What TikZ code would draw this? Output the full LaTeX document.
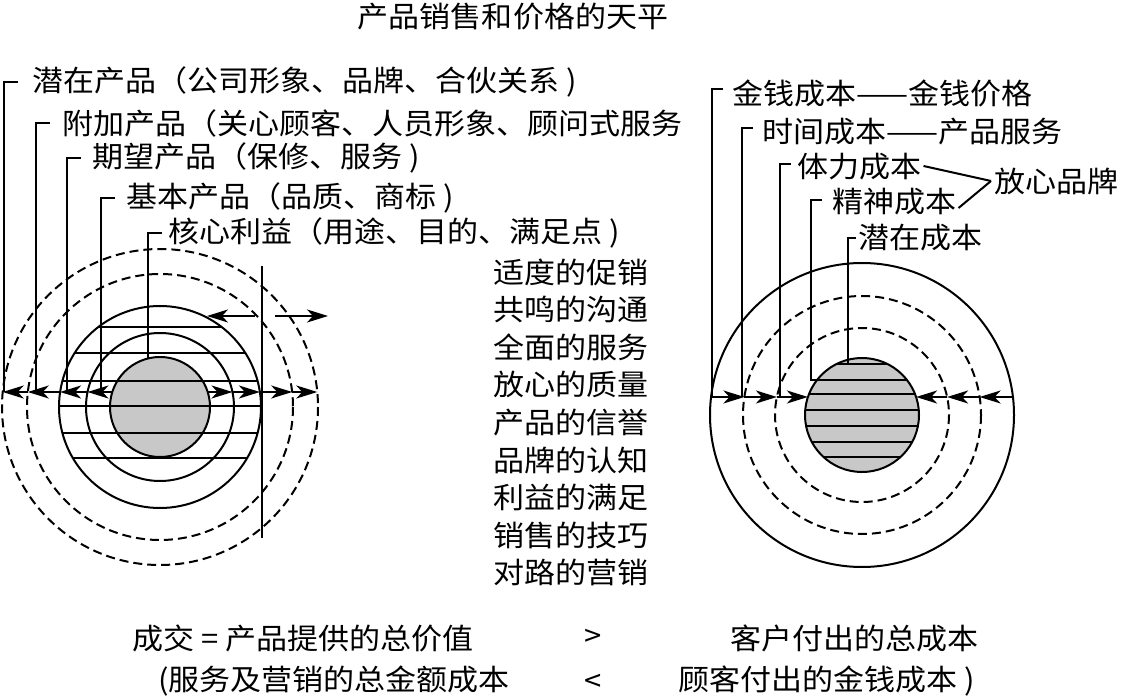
\documentclass[tikz,border=0pt]{standalone}
\usepackage{fontspec}
\newfontfamily\cjk[FakeStretch=1.07]{Noto Sans CJK SC}
\usetikzlibrary{arrows.meta,calc}
\definecolor{fillgray}{RGB}{200,200,200}
\begin{document}
\begin{tikzpicture}[x=1pt,y=-1pt,
  lbl/.style={font=\cjk\fontsize{29}{30}\selectfont, inner sep=0pt, anchor=west},
  ctr/.style={font=\cjk\fontsize{29}{30}\selectfont, inner sep=0pt},
  ln/.style={line width=2pt},
  dsh/.style={line width=2pt, dash pattern=on 9pt off 5pt},
  arr/.style={line width=2pt, -{Stealth[length=21pt,width=13pt,inset=6pt]}},
  brk/.style={line width=2pt}]
\useasboundingbox (0,0) rectangle (1124,700);

% title
\node[ctr] (title) at (513,17) {产品销售和价格的天平};

% ---------- left figure ----------
\coordinate (CL) at (160,407);
\fill[fillgray] (CL) circle (50);
\begin{scope}
  \clip (CL) circle (101);
  \foreach \yy in {327,353,381,406,433,458} \draw[ln] (40,\yy) -- (262,\yy);
\end{scope}
\draw[ln] (CL) circle (50);
\draw[ln] (CL) circle (74);
\draw[ln] (CL) circle (101);
\draw[dsh] (CL) circle (133);
\draw[dsh] (CL) circle (158);

\coordinate (vt) at (262,266);
\coordinate (vb) at (262,538);
\draw[ln] (vt) -- (vb);
\coordinate (sa1) at (255,316); \coordinate (sa2) at (207,316);
\coordinate (sb1) at (275,316); \coordinate (sb2) at (328,316);
\draw[arr] (sa1) -- (sa2);
\draw[arr] (sb1) -- (sb2);

% arrow row left figure
\coordinate (l5) at (2.7,392);  \coordinate (l4) at (27.8,392);
\coordinate (l3) at (60.1,392); \coordinate (l2) at (87.5,392);
\coordinate (l1) at (112.3,392);
\coordinate (r1) at (207.7,392); \coordinate (r2) at (232.5,392);
\coordinate (r3) at (259.9,392); \coordinate (r4) at (292.2,392);
\coordinate (r5) at (317.3,392);
\draw[arr] (l1) -- (l2); \draw[arr] (l2) -- (l3);
\draw[arr] (l3) -- (l4); \draw[arr] (l4) -- (l5);
\draw[arr] (r1) -- (r2); \draw[arr] (r2) -- (r3);
\draw[arr] (r3) -- (r4); \draw[arr] (r4) -- (r5);

% left labels
\node[lbl] (t1) at (32,82)  {潜在产品（公司形象、品牌、合伙关系 )};
\node[lbl] (t2) at (62,123) {附加产品（关心顾客、人员形象、顾问式服务};
\node[lbl] (t3) at (92,158) {期望产品（保修、服务 )};
\node[lbl] (t4) at (126,198) {基本产品（品质、商标 )};
\node[lbl] (t5) at (168,233) {核心利益（用途、目的、满足点 )};

\coordinate (b1) at (4,392);
\coordinate (b2) at (36,392);
\coordinate (b3) at (67,392);
\coordinate (b4) at (101,392);
\coordinate (b5) at (148,358.5);
\draw[brk] ($(b1|-t1.west)+(14,0)$) -- (b1|-t1.west) -- (b1);
\draw[brk] ($(b2|-t2.west)+(14,0)$) -- (b2|-t2.west) -- (b2);
\draw[brk] ($(b3|-t3.west)+(14,0)$) -- (b3|-t3.west) -- (b3);
\draw[brk] ($(b4|-t4.west)+(14,0)$) -- (b4|-t4.west) -- (b4);
\draw[brk] ($(b5|-t5.west)+(14,0)$) -- (b5|-t5.west) -- (b5);

% middle column
\foreach \txt [count=\i from 0] in {适度的促销,共鸣的沟通,全面的服务,放心的质量,产品的信誉,品牌的认知,利益的满足,销售的技巧,对路的营销}
  \node[lbl] (m\i) at (493,272+37.6*\i) {\txt};

% ---------- right figure ----------
\coordinate (CR) at (862,415);
\fill[fillgray] (CR) circle (57);
\begin{scope}
  \clip (CR) circle (57);
  \foreach \yy in {364,380,394,410,426,442,457} \draw[ln] (790,\yy) -- (930,\yy);
\end{scope}
\draw[ln] (CR) circle (57);
\draw[dsh] (CR) circle (87);
\draw[dsh] (CR) circle (119);
\draw[ln] (CR) circle (152);

\coordinate (p1) at (711.1,397); \coordinate (p2) at (744.4,397);
\coordinate (p3) at (776.9,397); \coordinate (p4) at (807.9,397);
\coordinate (q1) at (1012.9,397); \coordinate (q2) at (979.6,397);
\coordinate (q3) at (947.1,397); \coordinate (q4) at (916.1,397);
\draw[arr] (p1) -- (p2); \draw[arr] (p2) -- (p3); \draw[arr] (p3) -- (p4);
\draw[arr] (q1) -- (q2); \draw[arr] (q2) -- (q3); \draw[arr] (q3) -- (q4);

\node[lbl] (c1) at (732,93)  {金钱成本——金钱价格};
\node[lbl] (c2) at (762,132) {时间成本——产品服务};
\node[lbl] (c3) at (797,167) {体力成本};
\node[lbl] (c4) at (832,202) {精神成本};
\node[lbl] (c5) at (858,238) {潜在成本};
\node[lbl] (c6) at (994,181) {放心品牌};
\draw[ln] ($(c3.east)+(2,-1)$) -- ($(c6.west)+(-3,0)$);
\draw[ln] ($(c4.east)+(2,6)$) -- ($(c6.west)+(-3,0)$);

\coordinate (d1) at (712,397);
\coordinate (d2) at (742,397);
\coordinate (d3) at (780,397);
\coordinate (d4) at (811,380);
\coordinate (d4e) at (822,380);
\coordinate (d5) at (848,364);
\draw[brk] ($(d1|-c1.west)+(11,-4)$) -- ($(d1|-c1.west)+(0,-4)$) -- (d1);
\draw[brk] ($(d2|-c2.west)+(11,-4)$) -- ($(d2|-c2.west)+(0,-4)$) -- (d2);
\draw[brk] ($(d3|-c3.west)+(11,-3)$) -- ($(d3|-c3.west)+(0,-3)$) -- (d3);
\draw[brk] ($(d4|-c4.west)+(11,-2)$) -- ($(d4|-c4.west)+(0,-2)$) -- (d4) -- (d4e);
\draw[brk] ($(d5|-c5.west)+(8,0)$) -- (d5|-c5.west) -- (d5);

% ---------- bottom ----------
\node[lbl] (e1) at (132,638) {成交 = 产品提供的总价值};
\node[ctr] (gt) at (593,638) {>};
\node[lbl] (e2) at (730,638) {客户付出的总成本};
\node[lbl] (f1) at (158,681) {(服务及营销的总金额成本};
\node[ctr] (lt) at (593,683) {<};
\node[lbl] (f2) at (678,681) {顾客付出的金钱成本 )};
\end{tikzpicture}
\end{document}
